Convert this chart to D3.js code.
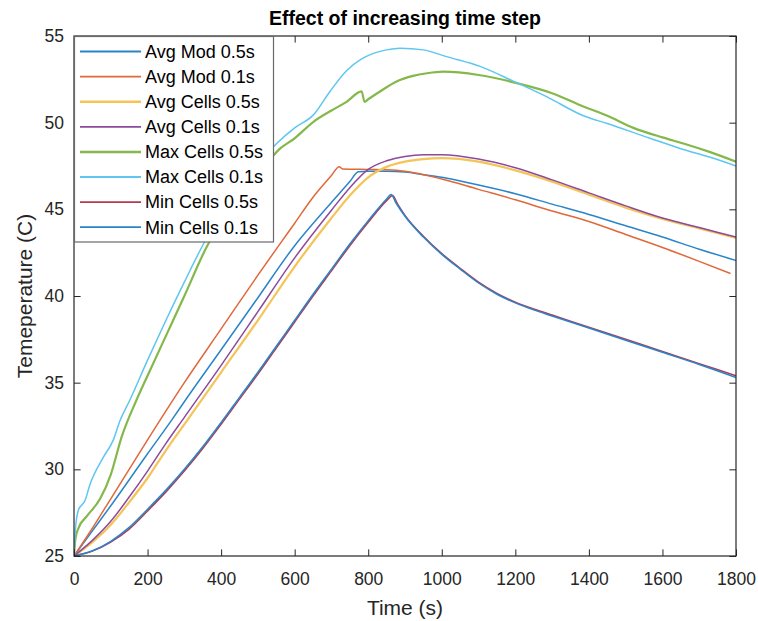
<!DOCTYPE html>
<html><head><meta charset="utf-8">
<script src="https://cdn.jsdelivr.net/npm/d3@7"></script>
<style>
body{margin:0;background:#fff}
text{font-family:Arial,"Liberation Sans",Helvetica,sans-serif}
</style>
</head><body>
<svg id="chart" width="758" height="621"></svg>
<script>
// ---------- data ----------
const xTicks = [0,200,400,600,800,1000,1200,1400,1600,1800];
const yTicks = [25,30,35,40,45,50,55];
const seriesNames = ["Avg Mod 0.5s","Avg Mod 0.1s","Avg Cells 0.5s","Avg Cells 0.1s","Max Cells 0.5s","Max Cells 0.1s","Min Cells 0.5s","Min Cells 0.1s"];
const seriesColors = ["#2a84c8","#e0683a","#f4c458","#8c4a9c","#84b84a","#5ec6f0","#b23a50","#2a84c8"];
const seriesWidths = [1.5,1.5,2.2,1.5,2.2,1.5,1.5,1.5];

const avgMod05T = [0,50,100,200,266,300,400,500,600,615,700,750,773,800,850,900,950,1000,1100,1200,1300,1400,1500,1600,1700,1800];
const avgMod05V = [25,26.45,27.9,30.9,32.85,33.9,36.9,39.9,42.9,43.3,45.4,46.6,47.17,47.2,47.2,47.15,47.0,46.85,46.4,45.9,45.3,44.7,44.05,43.4,42.7,42.05];

const avgMod01T = [0,50,100,200,300,400,500,600,650,700,721,730,800,850,900,1000,1100,1200,1300,1400,1500,1600,1700,1785];
const avgMod01V = [25,26.6,28.3,31.7,35.0,38.1,41.2,44.2,45.7,46.95,47.46,47.33,47.3,47.28,47.2,46.75,46.15,45.55,44.9,44.3,43.55,42.8,42.0,41.3];

const avgCells05T = [0,50,100,150,200,250,300,400,500,600,700,750,800,850,900,950,1000,1100,1200,1300,1400,1500,1600,1700,1800];
const avgCells05V = [25,25.8,26.8,28.1,29.5,31.1,32.6,35.6,38.6,41.7,44.5,45.8,46.85,47.45,47.75,47.9,47.95,47.75,47.25,46.6,45.85,45.1,44.45,43.9,43.35];

const avgCells01T = [0,50,100,150,200,250,300,400,500,600,700,750,800,850,900,950,1000,1100,1200,1300,1400,1500,1600,1700,1800];
const avgCells01V = [25,25.9,27.0,28.4,29.9,31.5,33.0,36.0,39.1,42.2,44.95,46.25,47.3,47.8,48.05,48.15,48.15,47.9,47.4,46.7,45.95,45.2,44.5,43.95,43.4];

const maxCells05T = [0,4,12,35,71,100,130,170,200,250,300,365,400,450,500,560,600,651,700,741,782,790,800,832,877,922,960,1004,1100,1204,1300,1385,1450,1521,1600,1657,1730,1800];
const maxCells05V = [25,26.0,26.6,27.3,28.3,29.7,31.9,34.0,35.4,37.7,40.0,43.0,44.2,45.7,47.0,48.5,49.1,50.05,50.7,51.2,51.8,51.2,51.35,51.8,52.38,52.7,52.85,52.94,52.75,52.28,51.7,50.93,50.4,49.7,49.15,48.8,48.3,47.75];

const maxCells01T = [0,4,12,30,43,80,107,125,152,200,250,300,352,400,450,500,551,600,651,696,741,780,814,850,886,950,1013,1104,1194,1285,1385,1450,1566,1650,1730,1800];
const maxCells01V = [25,26.6,27.65,28.2,29.1,30.7,31.7,32.8,34.0,36.3,38.6,40.8,43.0,44.7,46.3,47.6,48.8,49.7,50.45,51.8,53.0,53.65,54.0,54.2,54.3,54.2,53.81,53.25,52.4,51.5,50.4,49.95,49.1,48.5,48.0,47.5];

const minCells05T = [0,50,100,150,200,250,300,350,400,450,500,550,600,650,700,750,800,850,866,880,900,950,1000,1050,1100,1150,1200,1250,1300,1400,1500,1600,1700,1800];
const minCells05V = [25,25.28,25.8,26.55,27.6,28.7,29.9,31.2,32.6,34.05,35.5,37.0,38.5,40.0,41.45,42.9,44.25,45.5,45.8,45.3,44.65,43.45,42.45,41.6,40.8,40.15,39.65,39.25,38.9,38.2,37.5,36.8,36.1,35.4];

const minCells01T = [0,50,100,150,200,250,300,350,400,450,500,550,600,650,700,750,800,850,862,876,900,950,1000,1050,1100,1150,1200,1250,1300,1400,1500,1600,1700,1800];
const minCells01V = [25,25.3,25.85,26.65,27.7,28.8,30.0,31.3,32.7,34.15,35.6,37.1,38.6,40.1,41.55,43.0,44.35,45.6,45.85,45.35,44.6,43.4,42.4,41.55,40.75,40.1,39.6,39.2,38.85,38.15,37.45,36.75,36.05,35.3];

const seriesT = [avgMod05T,avgMod01T,avgCells05T,avgCells01T,maxCells05T,maxCells01T,minCells05T,minCells01T];
const seriesV = [avgMod05V,avgMod01V,avgCells05V,avgCells01V,maxCells05V,maxCells01V,minCells05V,minCells01V];

// ---------- chart ----------
const svg = d3.select("#chart");
const L = 74, R = 736, T = 36, B = 556;
const x = d3.scaleLinear().domain([0,1800]).range([L,R]);
const y = d3.scaleLinear().domain([25,55]).range([B,T]);
const axisCol = "#262626";
const tk = 6.6;

svg.append("rect").attr("x",0).attr("y",0).attr("width",758).attr("height",621).attr("fill","#fff");

svg.append("defs").append("clipPath").attr("id","pc")
  .append("rect").attr("x",L).attr("y",T-1).attr("width",R-L).attr("height",B-T+2);

const plot = svg.append("g").attr("clip-path","url(#pc)");
const line = d3.line().x(d=>x(d[0])).y(d=>y(d[1])).curve(d3.curveMonotoneX);
seriesNames.forEach((n,i)=>{
  const pts = seriesT[i].map((t,j)=>[t,seriesV[i][j]]);
  plot.append("path").datum(pts).attr("d",line)
    .attr("fill","none").attr("stroke",seriesColors[i])
    .attr("stroke-width",seriesWidths[i]).attr("stroke-linejoin","round");
});

function styleAxis(g, fs){
  g.select(".domain").remove();
  g.selectAll(".tick line").attr("stroke",axisCol).attr("stroke-width",1);
  g.selectAll(".tick text").attr("fill",axisCol).style("font-size",fs+"px")
    .style("font-family","Arial, 'Liberation Sans', sans-serif");
}
const gx = svg.append("g").attr("transform",`translate(0,${B})`)
  .call(d3.axisBottom(x).tickValues(xTicks).tickSizeInner(-tk).tickSizeOuter(0).tickPadding(17).tickFormat(d3.format("d")));
styleAxis(gx,17.5);
const gy = svg.append("g").attr("transform",`translate(${L},0)`)
  .call(d3.axisLeft(y).tickValues(yTicks).tickSizeInner(-tk).tickSizeOuter(0).tickPadding(10).tickFormat(d3.format("d")));
styleAxis(gy,17.5);
const gt = svg.append("g").attr("transform",`translate(0,${T})`)
  .call(d3.axisTop(x).tickValues(xTicks).tickSizeInner(-tk).tickSizeOuter(0).tickFormat(""));
styleAxis(gt,17.5);
const gr = svg.append("g").attr("transform",`translate(${R},0)`)
  .call(d3.axisRight(y).tickValues(yTicks).tickSizeInner(-tk).tickSizeOuter(0).tickFormat(""));
styleAxis(gr,17.5);

svg.append("rect").attr("x",L).attr("y",T).attr("width",R-L).attr("height",B-T)
  .attr("fill","none").attr("stroke",axisCol).attr("stroke-width",1.2);

// title & labels
svg.append("text").attr("x",(L+R)/2).attr("y",25).attr("text-anchor","middle")
  .style("font-size","19.5px").style("font-weight","bold").attr("fill","#000")
  .text("Effect of increasing time step");
svg.append("text").attr("x",(L+R)/2).attr("y",615).attr("text-anchor","middle")
  .style("font-size","21px").attr("fill",axisCol).text("Time (s)");
svg.append("text").attr("transform",`translate(32,${(T+B)/2}) rotate(-90)`).attr("text-anchor","middle")
  .style("font-size","21px").attr("fill",axisCol).text("Temeperature (C)");

// legend
const lg = svg.append("g");
lg.append("rect").attr("x",L+0.5).attr("y",T+0.5).attr("width",199).attr("height",205.5)
  .attr("fill","#fff").attr("stroke","#6a6a6a").attr("stroke-width",1.2);
seriesNames.forEach((n,i)=>{
  const cy = 51.5 + i*25.1;
  lg.append("line").attr("x1",80).attr("x2",141).attr("y1",cy).attr("y2",cy)
    .attr("stroke",seriesColors[i]).attr("stroke-width",seriesWidths[i]+0.3);
  lg.append("text").attr("x",145).attr("y",cy).attr("dy","0.35em")
    .style("font-size","18px").attr("fill","#000").text(n);
});
</script>
</body></html>
